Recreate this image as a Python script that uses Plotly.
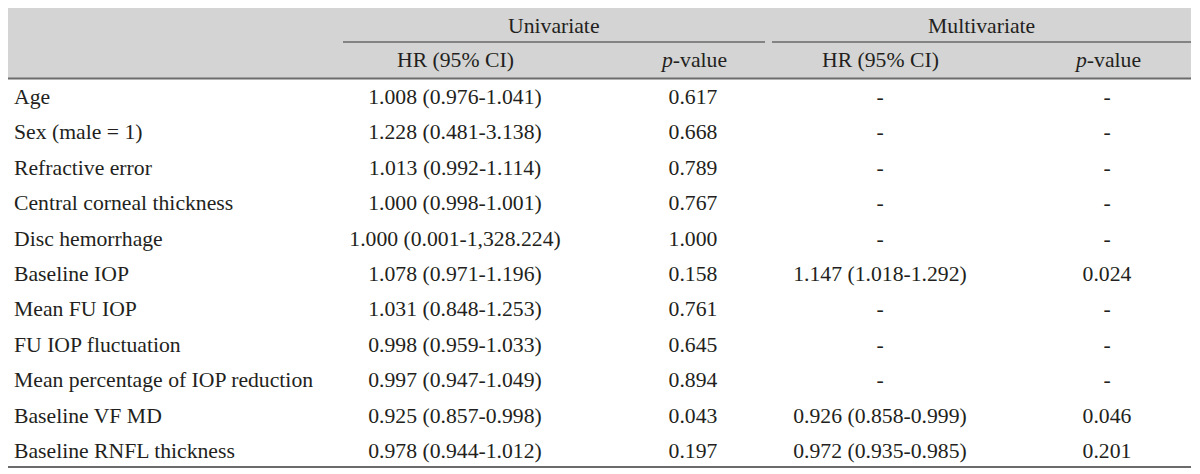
import plotly.graph_objects as go

variables = [
    "Age", "Sex (male = 1)", "Refractive error", "Central corneal thickness",
    "Disc hemorrhage", "Baseline IOP", "Mean FU IOP", "FU IOP fluctuation",
    "Mean percentage of IOP reduction", "Baseline VF MD", "Baseline RNFL thickness",
]
uni_hr = [
    "1.008 (0.976-1.041)", "1.228 (0.481-3.138)", "1.013 (0.992-1.114)",
    "1.000 (0.998-1.001)", "1.000 (0.001-1,328.224)", "1.078 (0.971-1.196)",
    "1.031 (0.848-1.253)", "0.998 (0.959-1.033)", "0.997 (0.947-1.049)",
    "0.925 (0.857-0.998)", "0.978 (0.944-1.012)",
]
uni_p = ["0.617", "0.668", "0.789", "0.767", "1.000", "0.158",
         "0.761", "0.645", "0.894", "0.043", "0.197"]
multi_hr = ["-", "-", "-", "-", "-", "1.147 (1.018-1.292)",
            "-", "-", "-", "0.926 (0.858-0.999)", "0.972 (0.935-0.985)"]
multi_p = ["-", "-", "-", "-", "-", "0.024",
           "-", "-", "-", "0.046", "0.201"]
groups = ["Univariate", "Multivariate"]
subheads = ["HR (95% CI)", "<i>p</i>-value", "HR (95% CI)", "<i>p</i>-value"]

# layout in page pixel units (x: 0..1200, y: 0..474 top-down);
# the page body adds an 8px margin, so the axis ranges are shifted by it
W, H = 1200, 474
PAGE_OFF = 8
col_x = [455, 693, 880, 1107]
label_x = 14
row0, row_step = 98.5, 35.4
group_y, sub_y = 26, 60
left, right = 5, 1191
top_line, head_line, bottom_line = 7, 78.5, 467
group_spans = [(343, 765), (772, 1191)]

FONT = "Liberation Serif"
TXT = "#231f20"
FS = 21.7

fig = go.Figure()
row_y = [row0 + i * row_step for i in range(len(variables))]

fig.add_trace(go.Scatter(x=[label_x] * len(variables), y=row_y, mode="text",
                         text=variables, textposition="middle right",
                         textfont=dict(family=FONT, size=FS, color=TXT),
                         hoverinfo="skip", showlegend=False))
for cx, col in zip(col_x, [uni_hr, uni_p, multi_hr, multi_p]):
    fig.add_trace(go.Scatter(x=[cx] * len(col), y=row_y, mode="text", text=col,
                             textposition="middle center",
                             textfont=dict(family=FONT, size=FS, color=TXT),
                             hoverinfo="skip", showlegend=False))

shapes = [
    dict(type="rect", x0=left, x1=right, y0=top_line, y1=head_line,
         fillcolor="#d4d4d4", line=dict(width=0), layer="below"),
    dict(type="line", x0=left, x1=right, y0=top_line, y1=top_line,
         line=dict(color="#6b6b6b", width=2)),
    dict(type="line", x0=left, x1=right, y0=head_line, y1=head_line,
         line=dict(color="#6b6b6b", width=2)),
    dict(type="line", x0=left, x1=right, y0=bottom_line, y1=bottom_line,
         line=dict(color="#6b6b6b", width=2)),
]
for x0, x1 in group_spans:
    shapes.append(dict(type="line", x0=x0, x1=x1, y0=42, y1=42,
                       line=dict(color="#333333", width=1)))

annotations = []
for (x0, x1), g in zip(group_spans, groups):
    annotations.append(dict(x=(x0 + x1) / 2, y=group_y, text=g, showarrow=False,
                            font=dict(family=FONT, size=FS, color=TXT)))
for cx, s in zip(col_x, subheads):
    annotations.append(dict(x=cx, y=sub_y, text=s, showarrow=False,
                            font=dict(family=FONT, size=FS, color=TXT)))

fig.update_layout(
    width=W, height=H, margin=dict(l=0, r=0, t=0, b=0),
    paper_bgcolor="white", plot_bgcolor="white",
    xaxis=dict(range=[PAGE_OFF, W + PAGE_OFF], visible=False, fixedrange=True),
    yaxis=dict(range=[H + PAGE_OFF, PAGE_OFF], visible=False, fixedrange=True),
    shapes=shapes, annotations=annotations,
)
fig.write_html("out.html")
